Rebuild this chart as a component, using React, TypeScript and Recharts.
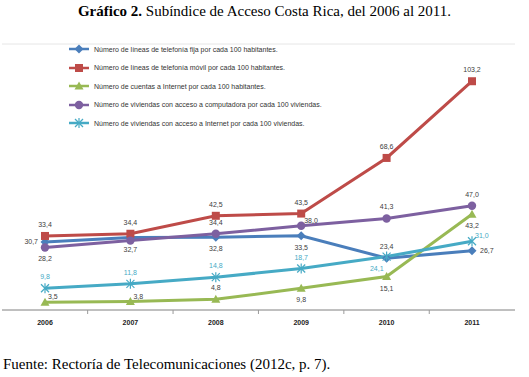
import React from 'react';
import { LineChart, Line, XAxis, YAxis, CartesianGrid, LabelList } from 'recharts';

const years = ['2006', '2007', '2008', '2009', '2010', '2011'];
const fija = [30.7, 32.7, 32.8, 33.5, 23.4, 26.7];
const movil = [33.4, 34.4, 42.5, 43.5, 68.6, 103.2];
const cuentas = [3.5, 3.8, 4.8, 9.8, 15.1, 43.2];
const computadora = [28.2, 31.3, 34.4, 38.0, 41.3, 47.0];
const viviendasInternet = [9.8, 11.8, 14.8, 18.7, 24.1, 31.0];
const yTicks = [0, 20, 40, 60, 80, 100, 120];

const data = years.map((year, i) => ({
  year,
  fija: fija[i],
  movil: movil[i],
  cuentas: cuentas[i],
  computadora: computadora[i],
  viviendasInternet: viviendasInternet[i],
}));

type Shape = 'diamond' | 'square' | 'triangle' | 'circle' | 'star';
type Pos = 'top' | 'bottom' | 'left' | 'right' | 'topRight' | 'bottomLeft' | 'none';

interface SeriesDef {
  key: string;
  name: string;
  color: string;
  shape: Shape;
  labelColor: string;
  labelPos: Pos[];
}

const series: SeriesDef[] = [
  {
    key: 'fija', name: 'Número de líneas de telefonía fija por cada 100 habitantes.',
    color: '#4a7ebb', shape: 'diamond', labelColor: '#404040',
    labelPos: ['left', 'bottom', 'bottom', 'bottom', 'top', 'right'],
  },
  {
    key: 'movil', name: 'Número de líneas de telefonía móvil por cada 100 habitantes.',
    color: '#be4b48', shape: 'square', labelColor: '#404040',
    labelPos: ['top', 'top', 'top', 'top', 'top', 'top'],
  },
  {
    key: 'cuentas', name: 'Número de cuentas a Internet  por cada 100 habitantes.',
    color: '#98b954', shape: 'triangle', labelColor: '#404040',
    labelPos: ['topRight', 'topRight', 'top', 'bottom', 'bottom', 'bottom'],
  },
  {
    key: 'computadora', name: 'Número de viviendas con acceso a computadora por cada 100 viviendas.',
    color: '#7d60a0', shape: 'circle', labelColor: '#404040',
    labelPos: ['bottom', 'none', 'top', 'topRight', 'top', 'top'],
  },
  {
    key: 'viviendasInternet', name: 'Número de viviendas con acceso a Internet por cada 100 viviendas.',
    color: '#46aac5', shape: 'star', labelColor: '#46aac5',
    labelPos: ['top', 'top', 'top', 'top', 'bottomLeft', 'topRight'],
  },
];

// half of one category band, for the boundary tick marks under the axis
const HALF_BAND = (529 - 2 - 14) / years.length / 2;

const Marker = ({ cx, cy, shape, color }: { cx: number; cy: number; shape: Shape; color: string }) => {
  if (cx == null || cy == null) return null;
  switch (shape) {
    case 'diamond':
      return <polygon points={`${cx},${cy - 4.5} ${cx + 4.5},${cy} ${cx},${cy + 4.5} ${cx - 4.5},${cy}`} fill={color} />;
    case 'square':
      return <rect x={cx - 4} y={cy - 4} width={8} height={8} fill={color} />;
    case 'triangle':
      return <polygon points={`${cx},${cy - 4.5} ${cx + 4.5},${cy + 3.5} ${cx - 4.5},${cy + 3.5}`} fill={color} />;
    case 'circle':
      return <circle cx={cx} cy={cy} r={4.2} fill={color} />;
    case 'star':
      return (
        <g stroke={color} strokeWidth={1.2}>
          <line x1={cx - 4} y1={cy - 4} x2={cx + 4} y2={cy + 4} />
          <line x1={cx - 4} y1={cy + 4} x2={cx + 4} y2={cy - 4} />
          <line x1={cx} y1={cy - 5} x2={cx} y2={cy + 5} />
        </g>
      );
  }
  return null;
};

const fmt = (v: number) => v.toFixed(1).replace('.', ',');

const makeLabel = (s: SeriesDef) => (props: any) => {
  const { x, y, value, index } = props;
  const pos = s.labelPos[index];
  if (pos === 'none' || x == null) return null;
  let dx = 0;
  let dy = 0;
  let anchor: 'middle' | 'start' | 'end' = 'middle';
  if (pos === 'top') dy = -9;
  if (pos === 'bottom') dy = 14;
  if (pos === 'left') { dx = -7; dy = 2.5; anchor = 'end'; }
  if (pos === 'right') { dx = 8; dy = 2.5; anchor = 'start'; }
  if (pos === 'topRight') { dx = 3; dy = -3; anchor = 'start'; }
  if (pos === 'bottomLeft') { dx = -3; dy = 14; anchor = 'end'; }
  return (
    <text x={x + dx} y={y + dy} fill={s.labelColor} fontSize={7} textAnchor={anchor} fontFamily="Liberation Sans, Arial, sans-serif">
      {fmt(value)}
    </text>
  );
};

const LegendBox = () => (
  <div style={{ position: 'absolute', left: 68, top: 40, fontFamily: 'Liberation Sans, Arial, sans-serif', fontSize: 7, color: '#333' }}>
    {series.map((s) => (
      <div key={s.key} style={{ display: 'flex', alignItems: 'center', height: 18.5 }}>
        <svg width={22} height={10} style={{ marginRight: 4 }}>
          <line x1={1} y1={5} x2={21} y2={5} stroke={s.color} strokeWidth={2.5} />
          <Marker cx={11} cy={5} shape={s.shape} color={s.color} />
        </svg>
        <span>{s.name}</span>
      </div>
    ))}
  </div>
);

const XTick = (props: any) => {
  const { x, y, payload, index } = props;
  return (
    <g>
      {index > 0 && <line x1={x - HALF_BAND} y1={y} x2={x - HALF_BAND} y2={y + 4} stroke="#9a9a9a" />}
      <text x={x} y={y + 15} textAnchor="middle" fontSize={7} fontWeight="bold" fill="#222" fontFamily="Liberation Sans, Arial, sans-serif">
        {payload.value}
      </text>
    </g>
  );
};

export default function App() {
  return (
    <div style={{ position: 'absolute', left: 0, top: 0, width: 529, height: 377, background: '#fff', overflow: 'hidden' }}>
      <div style={{ position: 'absolute', top: 3, left: 0, width: 529, textAlign: 'center', fontFamily: 'Liberation Serif, serif', fontSize: 15, color: '#000' }}>
        <b>Gráfico 2.</b> Subíndice de Acceso Costa Rica, del 2006 al 2011.
      </div>
      <div style={{ position: 'absolute', top: 0, left: 0 }}>
        <LineChart width={529} height={340} data={data} margin={{ top: 44, right: 14, bottom: 10, left: 2 }}>
          <CartesianGrid horizontal vertical={false} stroke="#e6e6e6" />
          <XAxis
            dataKey="year"
            height={20}
            interval={0}
            padding={{ left: 43, right: 43 }}
            tick={<XTick />}
            tickLine={false}
            tickSize={0}
            tickMargin={0}
            axisLine={{ stroke: '#8c8c8c' }}
          />
          <YAxis width={0} domain={[0, 120]} ticks={yTicks} tick={false} axisLine={false} tickLine={false} />
          {series.map((s) => (
            <Line
              key={s.key}
              dataKey={s.key}
              name={s.name}
              stroke={s.color}
              strokeWidth={3}
              isAnimationActive={false}
              dot={(p: any) => <Marker key={`${s.key}-${p.index}`} cx={p.cx} cy={p.cy} shape={s.shape} color={s.color} />}
              activeDot={false}
            >
              <LabelList dataKey={s.key} content={makeLabel(s)} />
            </Line>
          ))}
        </LineChart>
      </div>
      <LegendBox />
      <div style={{ position: 'absolute', top: 356, left: 3, fontFamily: 'Liberation Serif, serif', fontSize: 15, color: '#000' }}>
        Fuente: Rectoría de Telecomunicaciones (2012c, p. 7).
      </div>
    </div>
  );
}
